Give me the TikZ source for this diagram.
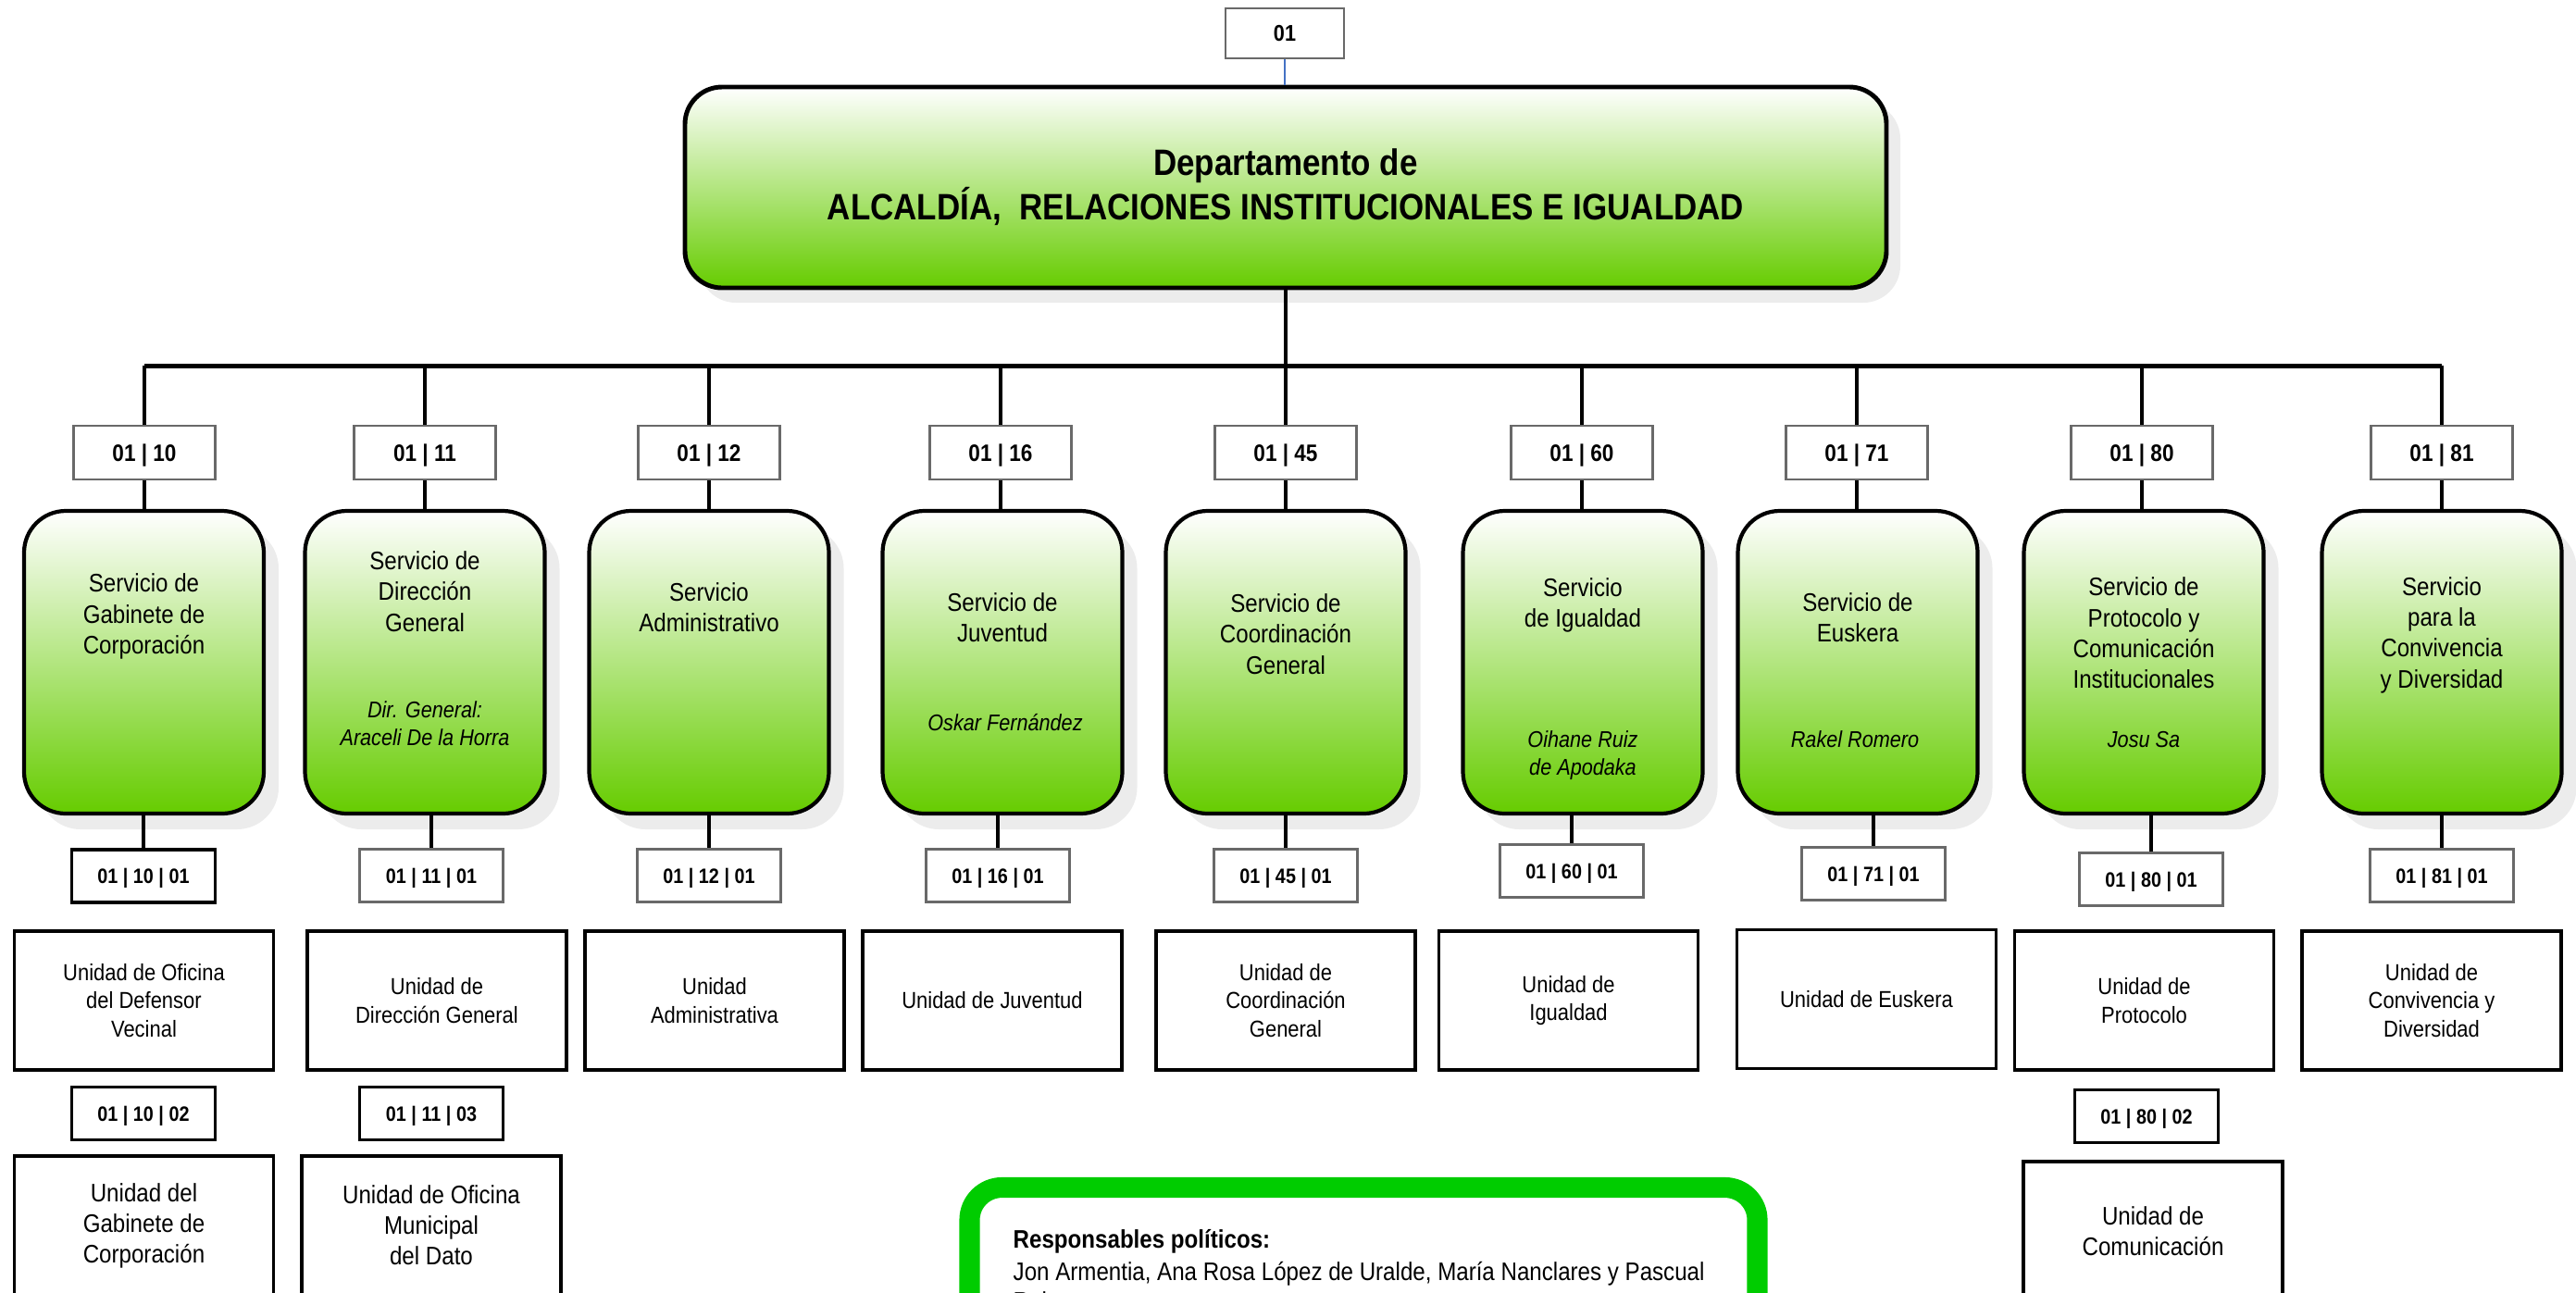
\documentclass[tikz,border=0pt]{standalone}
\usepackage{fontspec}
\setmainfont{Liberation Sans}[FakeStretch=0.88]
\usepackage{xcolor}
\usepackage{tikz}
\usetikzlibrary{positioning, shadows, calc}
\definecolor{servicegreen}{RGB}{102, 204, 0}
\definecolor{framegreen}{RGB}{0, 204, 0}
\definecolor{shadowgray}{RGB}{236, 236, 236}
\definecolor{codegray}{RGB}{105, 105, 105}
\definecolor{linkblue}{RGB}{68, 114, 196}

\tikzset{
    deptbox/.style={rectangle, rounded corners=0.4cm, draw=black, line width=1.4pt,
        top color=white, bottom color=servicegreen, minimum width=12.98cm, minimum height=2.17cm,
        general shadow={fill=shadowgray, shadow xshift=0.15cm, shadow yshift=-0.16cm},
        align=center, font=\bfseries\fontsize{11.3}{13.7}\selectfont},
    svcbox/.style={rectangle, rounded corners=0.45cm, draw=black, line width=1.2pt,
        top color=white, bottom color=servicegreen, minimum width=2.59cm, minimum height=3.27cm,
        general shadow={fill=shadowgray, shadow xshift=0.16cm, shadow yshift=-0.17cm}},
    svctext/.style={align=center, inner sep=0pt, font=\fontsize{7.8}{9.5}\selectfont},
    svcname/.style={align=center, inner sep=0pt, font=\itshape\fontsize{7}{8.6}\selectfont},
    codebox/.style={rectangle, draw=codegray, line width=0.6pt, fill=white, inner sep=0pt,
        text depth=0pt, minimum width=1.53cm, minimum height=0.58cm,
        font=\bfseries\fontsize{7.3}{8}\selectfont},
    ucodebox/.style={codebox, minimum width=1.55cm, minimum height=0.57cm,
        font=\bfseries\fontsize{6.4}{7}\selectfont},
    ucodedark/.style={ucodebox, draw=black, line width=1pt},
    unitbox/.style={rectangle, draw=black, line width=1pt, fill=white, inner sep=0pt,
        minimum width=2.8cm, minimum height=1.5cm, align=center, font=\fontsize{7.1}{8.6}\selectfont},
    unitbig/.style={unitbox, font=\fontsize{7.8}{9.4}\selectfont},
    trunk/.style={line width=1.3pt, black},
    link/.style={line width=1pt, black},
    resptext/.style={align=left, inner sep=0pt, font=\fontsize{7.8}{8.9}\selectfont}
}

\begin{document}
\begin{tikzpicture}
\useasboundingbox (0,0) rectangle (27.83,-13.96);
\clip (0,0) rectangle (27.83,-13.96);

% Department
\node[codebox, minimum width=1.28cm, minimum height=0.54cm, font=\bfseries\fontsize{7}{8}\selectfont] (c01) at (13.88,-0.36) {01};
\node[deptbox] (dept) at (13.89,-2.025) {Departamento de\\ALCALDÍA,\ \ RELACIONES INSTITUCIONALES E IGUALDAD};
\draw[linkblue, line width=0.4pt] (c01.south) -- (c01.south |- dept.north);

% Service codes
\node[codebox] (c10) at (1.56,-4.89) {01 | 10};
\node[codebox] (c11) at (4.59,-4.89) {01 | 11};
\node[codebox] (c12) at (7.66,-4.89) {01 | 12};
\node[codebox] (c16) at (10.81,-4.89) {01 | 16};
\node[codebox] (c45) at (13.89,-4.89) {01 | 45};
\node[codebox] (c60) at (17.09,-4.89) {01 | 60};
\node[codebox] (c71) at (20.06,-4.89) {01 | 71};
\node[codebox] (c80) at (23.14,-4.89) {01 | 80};
\node[codebox] (c81) at (26.38,-4.89) {01 | 81};

% Services
\node[svcbox] (s10) at (1.555,-7.155) {};
\node[svcbox] (s11) at (4.59,-7.155) {};
\node[svcbox] (s12) at (7.66,-7.155) {};
\node[svcbox] (s16) at (10.83,-7.155) {};
\node[svcbox] (s45) at (13.89,-7.155) {};
\node[svcbox] (s60) at (17.10,-7.155) {};
\node[svcbox] (s71) at (20.07,-7.155) {};
\node[svcbox] (s80) at (23.16,-7.155) {};
\node[svcbox] (s81) at (26.38,-7.155) {};

\node[svctext] (t10) at (1.555,-6.66) {Servicio de\\Gabinete de\\Corporación};
\node[svctext] (t11) at (4.59,-6.39) {Servicio de\\Dirección\\General};
\node[svcname] (n11) at (4.59,-7.82) {Dir. General:\\Araceli De la Horra};
\node[svctext] (t12) at (7.66,-6.56) {Servicio\\Administrativo};
\node[svctext] (t16) at (10.83,-6.67) {Servicio de\\Juventud};
\node[svcname] (n16) at (10.86,-7.81) {Oskar Fernández};
\node[svctext] (t45) at (13.89,-6.85) {Servicio de\\Coordinación\\General};
\node[svctext] (t60) at (17.10,-6.54) {Servicio\\de Igualdad};
\node[svcname] (n60) at (17.10,-8.16) {Oihane Ruiz\\de Apodaka};
\node[svctext] (t71) at (20.07,-6.67) {Servicio de\\Euskera};
\node[svcname] (n71) at (20.04,-7.99) {Rakel Romero};
\node[svctext] (t80) at (23.16,-6.84) {Servicio de\\Protocolo y\\Comunicación\\Institucionales};
\node[svcname] (n80) at (23.16,-7.99) {Josu Sa};
\node[svctext] (t81) at (26.38,-6.86) {Servicio\\para la\\Convivencia\\y Diversidad};

% Unit codes
\node[ucodedark] (k10) at (1.55,-9.465) {01 | 10 | 01};
\node[ucodebox] (k11) at (4.66,-9.46) {01 | 11 | 01};
\node[ucodebox] (k12) at (7.66,-9.46) {01 | 12 | 01};
\node[ucodebox] (k16) at (10.78,-9.46) {01 | 16 | 01};
\node[ucodebox] (k45) at (13.89,-9.46) {01 | 45 | 01};
\node[ucodebox] (k60) at (16.98,-9.41) {01 | 60 | 01};
\node[ucodebox] (k71) at (20.24,-9.44) {01 | 71 | 01};
\node[ucodebox] (k80) at (23.24,-9.50) {01 | 80 | 01};
\node[ucodebox] (k81) at (26.38,-9.46) {01 | 81 | 01};

% Units
\node[unitbox] (u10) at (1.555,-10.81) {Unidad de Oficina\\del Defensor\\Vecinal};
\node[unitbox] (u11) at (4.72,-10.81) {Unidad de\\Dirección General};
\node[unitbox] (u12) at (7.72,-10.81) {Unidad\\Administrativa};
\node[unitbox] (u16) at (10.72,-10.81) {Unidad de Juventud};
\node[unitbox] (u45) at (13.89,-10.81) {Unidad de\\Coordinación\\General};
\node[unitbox] (u60) at (16.945,-10.81) {Unidad de\\Igualdad};
\node[unitbox] (u71) at (20.165,-10.795) {Unidad de Euskera};
\node[unitbox] (u80) at (23.165,-10.81) {Unidad de\\Protocolo};
\node[unitbox] (u81) at (26.27,-10.81) {Unidad de\\Convivencia y\\Diversidad};

% Second units
\node[ucodedark] (k10b) at (1.55,-12.03) {01 | 10 | 02};
\node[ucodedark] (k11b) at (4.66,-12.03) {01 | 11 | 03};
\node[ucodedark] (k80b) at (23.19,-12.06) {01 | 80 | 02};
\node[unitbig] (u10b) at (1.555,-13.24) {Unidad del\\Gabinete de\\Corporación};
\node[unitbig] (u11b) at (4.66,-13.24) {Unidad de Oficina\\Municipal\\del Dato};
\node[unitbig] (u80b) at (23.26,-13.30) {Unidad de\\Comunicación};

% Connectors
\draw[trunk] (dept.south) -- ++(0,-0.82) coordinate (hub);
\draw[trunk] (c10.north |- hub) -- (c81.north |- hub);
\foreach \n in {10,11,12,16,45,60,71,80,81} {
    \draw[link] (c\n.north |- hub) -- (c\n.north);
    \draw[link] (c\n.south) -- (c\n.south |- s\n.north);
    \draw[link] (s\n.south -| k\n.north) -- (k\n.north);
}

% Political responsibles
\draw[framegreen, line width=6.3pt, fill=white, rounded corners=0.35cm] (10.475,-12.83) rectangle (18.985,-14.8);
\node[resptext, anchor=north west] (resp) at (10.94,-13.28) {\textbf{Responsables políticos:}\\[1.1pt]Jon Armentia, Ana Rosa López de Uralde, María Nanclares y Pascual\\Ruiz};
\end{tikzpicture}
\end{document}
